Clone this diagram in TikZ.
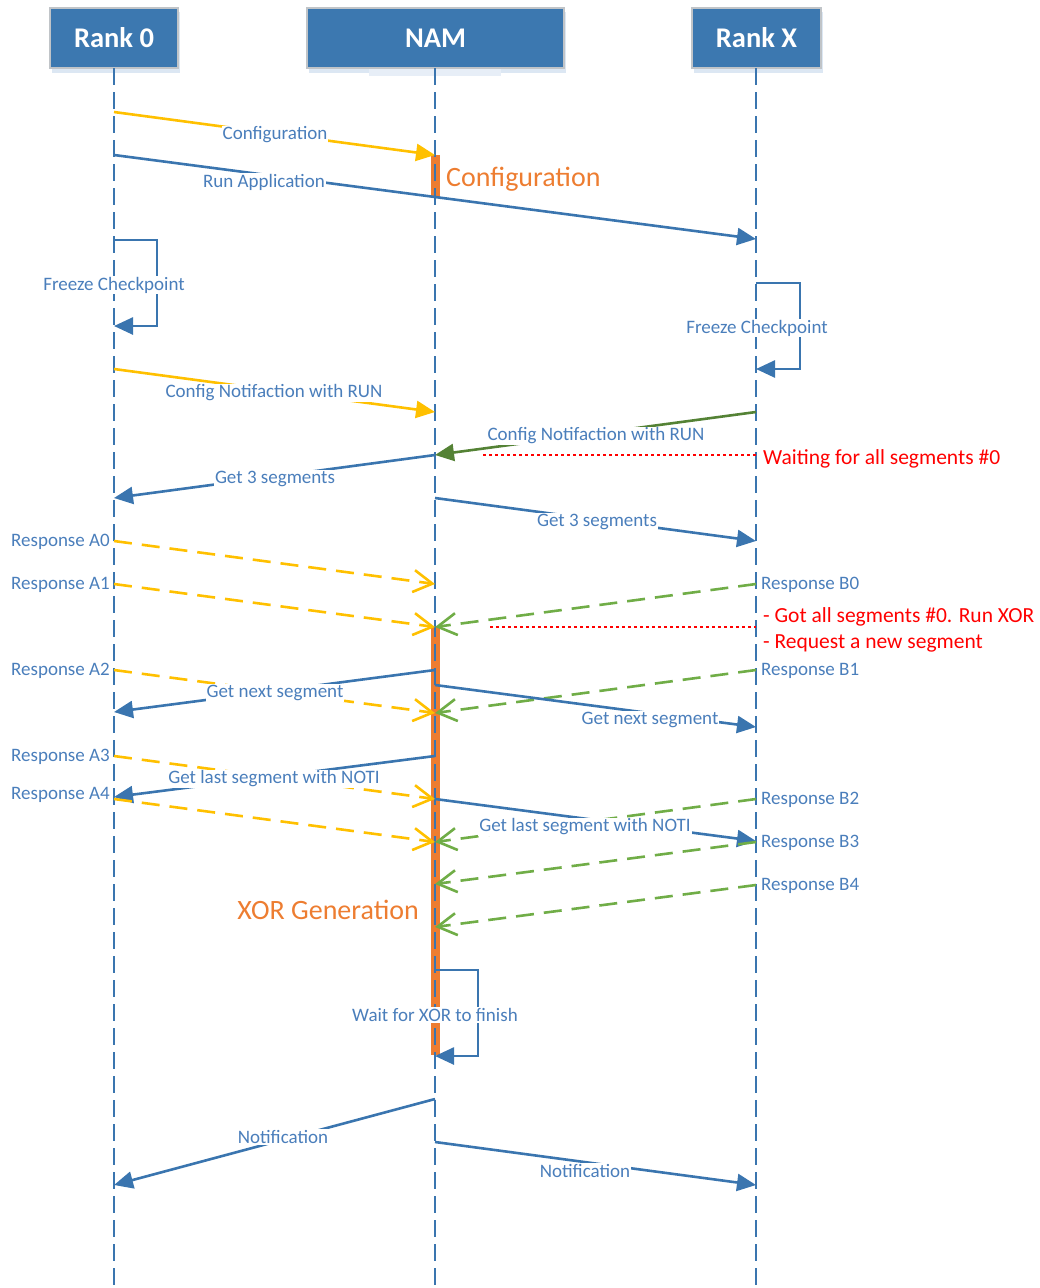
\documentclass[tikz,border=0pt]{standalone}
\usepackage{fontspec}
\setmainfont{Carlito}
\usetikzlibrary{arrows.meta}

\definecolor{hdrblue}{HTML}{3C78B0}
\definecolor{hdrborder}{HTML}{C0C4C8}
\definecolor{lineblue}{HTML}{3A75AF}
\definecolor{txtblue}{HTML}{4A7EBB}
\definecolor{cfgyellow}{HTML}{FFC000}
\definecolor{respgreen}{HTML}{70AD47}
\definecolor{darkgreen}{HTML}{548235}
\definecolor{barorange}{HTML}{ED7D31}
\definecolor{shadowblue}{HTML}{DCE7F3}

\tikzset{
  hdr/.style={draw=hdrborder, line width=1.5pt, fill=hdrblue, text=white,
    font=\bfseries\fontsize{28.5}{33}\selectfont, minimum height=60pt, inner sep=0pt},
  life/.style={draw=lineblue, line width=2.6pt, dash pattern=on 17pt off 7pt},
  msg/.style={draw=lineblue, line width=2.6pt, -{Triangle[length=19pt,width=17pt]}},
  cfgmsg/.style={msg, draw=cfgyellow},
  runmsg/.style={msg, draw=darkgreen},
  resp/.style={line width=2.6pt, dash pattern=on 18pt off 10pt,
    -{Straight Barb[length=19pt,width=22pt]}},
  respA/.style={resp, draw=cfgyellow},
  respB/.style={resp, draw=respgreen},
  waitline/.style={draw=red, line width=2pt, dash pattern=on 3pt off 3pt},
  lblfont/.style={text=txtblue, font=\fontsize{19}{22}\selectfont, yshift=-2pt},
  lbl/.style={lblfont, fill=white, inner sep=1pt},
  lblL/.style={lblfont, anchor=east, inner sep=1pt},
  lblR/.style={lblfont, anchor=west, inner sep=1pt},
  note/.style={text=red, font=\fontsize{21.5}{25}\selectfont, anchor=west, inner sep=0pt},
  phase/.style={text=barorange, font=\fontsize{28}{33}\selectfont, inner sep=0pt},
  actbar/.style={fill=barorange},
}

\begin{document}
\begin{tikzpicture}[x=1pt,y=-1pt]
\useasboundingbox (0,0) rectangle (1039,1288);

% header shadows
\fill[shadowblue] (52,12) rectangle (180,73);
\fill[shadowblue] (309,12) rectangle (566,73);
\fill[shadowblue!70] (369,66) rectangle (501,76);
\fill[shadowblue] (694,12) rectangle (823,73);

% headers
\node[hdr, minimum width=128pt] (r0) at (114,38) {Rank 0};
\node[hdr, minimum width=257pt] (nam) at (435.5,38) {NAM};
\node[hdr, minimum width=129pt] (rx) at (756.5,38) {Rank X};

% activation bars on NAM
\fill[actbar] (430.5,155) rectangle (440,197);
\fill[actbar] (430.5,627) rectangle (440,1055);

% lifelines
\coordinate (r0end) at (114,1288);
\coordinate (namend) at (435,1288);
\coordinate (rxend) at (756,1288);
\draw[life] (114,68) -- (r0end);
\draw[life] (435,68) -- (namend);
\draw[life] (756,68) -- (rxend);

% configuration phase
\draw[cfgmsg] (r0 |- 0,112) -- (namend |- 0,155);
\draw[msg] (r0 |- 0,155) -- (rxend |- 0,239);

% freeze checkpoint loops
\draw[msg] (r0 |- 0,240) -- (157,240) -- (157,326) -- (r0 |- 0,326);
\draw[msg] (rxend |- 0,283) -- (800,283) -- (800,369) -- (rxend |- 0,369);

% config notifications
\draw[cfgmsg] (r0 |- 0,369) -- (namend |- 0,412);
\draw[runmsg] (rxend |- 0,412) -- (namend |- 0,455);
\coordinate (w0) at (483,455);
\draw[waitline] (w0) -- (rxend |- w0);

% get 3 segments
\draw[msg] (namend |- 0,455) -- (r0 |- 0,498);
\draw[msg] (namend |- 0,498) -- (rxend |- 0,541);

% responses, first round
\draw[respA] (r0 |- 0,541) -- (namend |- 0,584);
\draw[respA] (r0 |- 0,584) -- (namend |- 0,627);
\draw[respB] (rxend |- 0,584) -- (namend |- 0,627);
\coordinate (w1) at (490,627);
\draw[waitline] (w1) -- (rxend |- w1);

% next segment
\draw[respA] (r0 |- 0,670) -- (namend |- 0,713);
\draw[respB] (rxend |- 0,670) -- (namend |- 0,713);
\draw[msg] (namend |- 0,670) -- (r0 |- 0,712);
\draw[msg] (namend |- 0,685) -- (rxend |- 0,727);

% last segment
\draw[respA] (r0 |- 0,756) -- (namend |- 0,799);
\draw[msg] (namend |- 0,756) -- (r0 |- 0,797);
\draw[respA] (r0 |- 0,799) -- (namend |- 0,842);
\draw[msg] (namend |- 0,799) -- (rxend |- 0,841);
\draw[respB] (rxend |- 0,799) -- (namend |- 0,842);
\draw[respB] (rxend |- 0,842) -- (namend |- 0,884);
\draw[respB] (rxend |- 0,885) -- (namend |- 0,927);

% wait for XOR
\draw[msg] (namend |- 0,970) -- (478,970) -- (478,1056) -- (namend |- 0,1056);

% notifications
\draw[msg] (namend |- 0,1099) -- (r0 |- 0,1185);
\draw[msg] (namend |- 0,1142) -- (rxend |- 0,1185);

% message labels
\node[lbl] (lconf) at (275,133) {Configuration};
\node[lbl] (lrun) at (264,180) {Run Application};
\node[lbl] (lfr0) at (114,283) {Freeze Checkpoint};
\node[lbl] (lfrx) at (757,326) {Freeze Checkpoint};
\node[lbl] (lcn0) at (274,391) {Config Notifaction with RUN};
\node[lbl] (lcnx) at (596,434) {Config Notifaction with RUN};
\node[lbl] (lg30) at (275,477) {Get 3 segments};
\node[lbl] (lg3x) at (597,520) {Get 3 segments};
\node[lbl] (lgn0) at (275,691) {Get next segment};
\node[lbl] (lgnx) at (650,718) {Get next segment};
\node[lbl] (lgl0) at (274,777) {Get last segment with NOTI};
\node[lbl] (lglx) at (585,825) {Get last segment with NOTI};
\node[lbl] (lwx) at (435,1013) {Wait for XOR to finish};
\node[lbl] (ln0) at (283,1135) {Notification};
\node[lbl] (lnx) at (585,1169) {Notification};

% response labels
\node[lblL] (ra0) at (111,540) {Response A0};
\node[lblL] (ra1) at (111,583) {Response A1};
\node[lblL] (ra2) at (111,669) {Response A2};
\node[lblL] (ra3) at (111,755) {Response A3};
\node[lblL] (ra4) at (111,793) {Response A4};
\node[lblR] (rb0) at (760,583) {Response B0};
\node[lblR] (rb1) at (760,669) {Response B1};
\node[lblR] (rb2) at (760,798) {Response B2};
\node[lblR] (rb3) at (760,841) {Response B3};
\node[lblR] (rb4) at (760,884) {Response B4};

% notes
\node[note] (nw) at (763,459) {Waiting for all segments \#0};
\node[note] (ng) at (763,617) {- Got all segments \#0. Run XOR};
\node[note] (nr) at (763,643) {- Request a new segment};

% phase labels
\node[phase, anchor=west] (pconf) at (446,179) {Configuration};
\node[phase, anchor=east] (pxor) at (419,910) {XOR Generation};
\end{tikzpicture}
\end{document}
